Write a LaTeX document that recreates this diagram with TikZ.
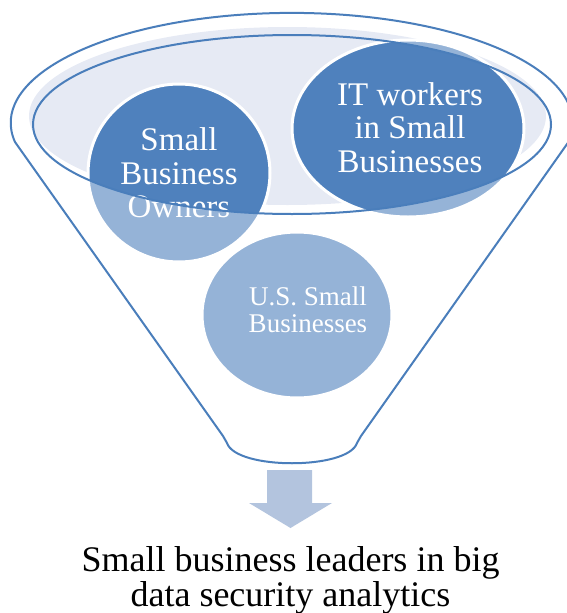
\documentclass[tikz,border=0pt]{standalone}
\usepackage{fontspec}
\setmainfont{Liberation Serif}
\definecolor{rim}{RGB}{74,126,187}
\definecolor{deepblue}{RGB}{79,129,189}
\definecolor{paleblue}{RGB}{149,179,215}
\definecolor{mist}{RGB}{230,234,244}
\definecolor{arrowblue}{RGB}{179,196,222}
\tikzset{
  outline/.style={draw=rim, line width=2pt, line join=round},
  circletext/.style={text=white, align=center, inner sep=0pt, font=\fontsize{33}{33.5}\selectfont},
  smalltext/.style={text=white, align=center, inner sep=0pt, font=\fontsize{27}{27}\selectfont},
  captiontext/.style={text=black, align=center, inner sep=0pt, font=\fontsize{36}{35}\selectfont}
}
\begin{document}
\begin{tikzpicture}[x=1pt,y=-1pt]
\useasboundingbox (0,0) rectangle (566,613);
% pale rim surface of the funnel mouth
\fill[mist] (287.5,116) ellipse [x radius=258.5, y radius=89];
% the three groups, pale outside the mouth
\foreach \cx/\cy/\rx/\ry in {179/173/91/89, 408/128.5/116/88.5, 297/315/95/83}
  \fill[paleblue] (\cx,\cy) ellipse [x radius=\rx, y radius=\ry];
% deeper tone where they sit inside the mouth
\begin{scope}
  \clip (292,124.5) ellipse [x radius=259, y radius=89.5];
  \foreach \cx/\cy/\rx/\ry in {179/173/91/89, 408/128.5/116/88.5}
    \fill[deepblue] (\cx,\cy) ellipse [x radius=\rx, y radius=\ry];
\end{scope}
\foreach \cx/\cy/\rx/\ry in {179/173/91/89, 408/128.5/116/88.5, 297/315/95/83}
  \draw[white, line width=3pt] (\cx,\cy) ellipse [x radius=\rx, y radius=\ry];
% labels of the groups
\node[circletext] (owners) at (179,172.75) {Small\\Business\\Owners};
\node[circletext] (itworkers) at (410,127.25) {IT workers\\in Small\\Businesses};
\node[smalltext] (ussmall) at (308,309.3) {U.S. Small\\Businesses};
% mouth of the funnel
\draw[outline] (292,124.5) ellipse [x radius=259, y radius=89.5];
% funnel body
\draw[outline] (15,142) arc [start angle=170, end angle=370, x radius=281, y radius=110]
  -- (361,436) -- (357,443) .. controls (348,470) and (236,470) .. (227,443) -- (223,436) -- cycle;
% output arrow
\fill[arrowblue] (267,470) -- (312,470) -- (312,503) -- (332,503) -- (290.5,528)
  -- (249,503) -- (267,503) -- cycle;
% result
\node[captiontext] (result) at (290.5,580.1) {Small business leaders in big\\data security analytics};
\end{tikzpicture}
\end{document}
